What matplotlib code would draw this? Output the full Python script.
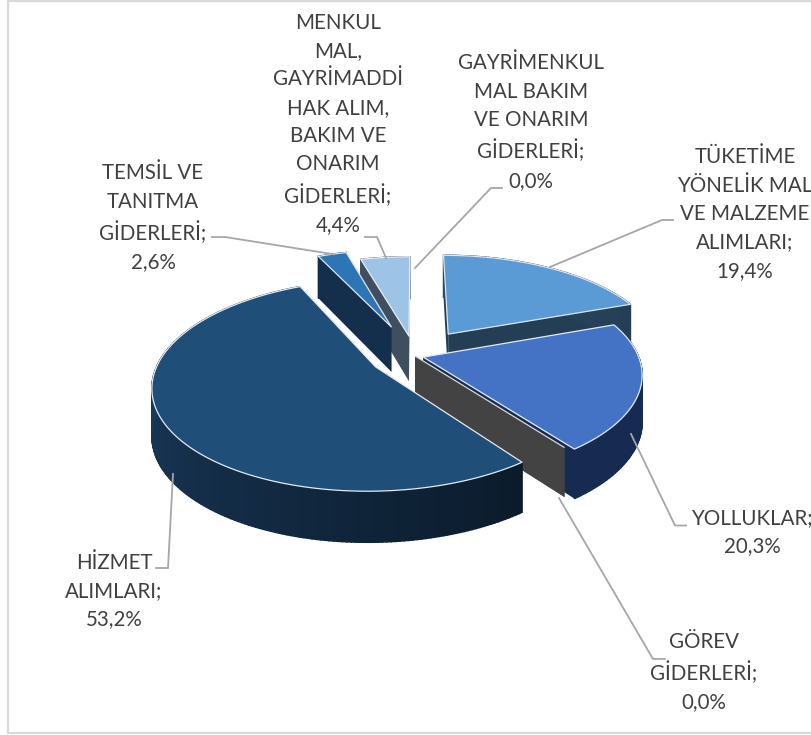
import numpy as np
import matplotlib
matplotlib.use('Agg')
import matplotlib.pyplot as plt
from matplotlib.colors import to_rgb
from matplotlib.patches import Polygon

plt.rcParams['font.family'] = ['Lato', 'DejaVu Sans']

# chart data
labels = ['TÜKETİME\nYÖNELİK MAL\nVE MALZEME\nALIMLARI;', 'YOLLUKLAR;', 'GÖREV\nGİDERLERİ;',
          'HİZMET\nALIMLARI;', 'TEMSİL VE\nTANITMA\nGİDERLERİ;',
          'MENKUL\nMAL,\nGAYRİMADDİ\nHAK ALIM,\nBAKIM VE\nONARIM\nGİDERLERİ;',
          'GAYRİMENKUL\nMAL BAKIM\nVE ONARIM\nGİDERLERİ;']
values = [19.4, 20.3, 0.0, 53.2, 2.6, 4.4, 0.0]

# styles
explode = [0.28, 0.04, 0.0, 0.21, 0.33, 0.21, 0.21]
top_colors = ['#5B9BD5', '#4472C4', '#A5A5A5', '#1F4E79', '#2E75B6', '#9DC3E6', '#9DC3E6']
side_colors = ['#243F55', '#172B52', '#434343', '#0C1C2C', '#142F4B', '#3F4F60', '#3F4F60']
outer_colors = [['#2A4A68', '#243F55'], ['#172B52', '#172B52'], ['#434343', '#434343'],
                ['#0B1B2B', '#16324F', '#1D4A72'], ['#142F4B', '#142F4B'],
                ['#3F4F60', '#3F4F60'], ['#3F4F60', '#3F4F60']]
edge_colors = ['#DCE6F0', '#E4EAF5', '#D8D8D8', '#E4EAF0', '#DCE6F0', '#E8EEF5', 'none']
draw_order = [0, 6, 5, 4, 1, 2, 3]

# label layout in pixels: centre x, centre y of the text block
label_pos = [(745, 214), (752, 532), (704, 672), (114, 591), (153, 218), (338, 124), (531, 122)]
leaders = [[(673, 220), (662, 220), (550, 267)],
           [(686, 525.5), (675, 525.5), (631, 434)],
           [(665, 659), (653, 659), (559, 498)],
           [(156, 568), (168, 568), (173, 474)],
           [(212, 237), (225, 237), (332, 254)],
           [(365, 237), (377, 237), (386, 258)],
           [(502, 188), (491, 188), (415, 268)]]

cx, cy = 415, 356
rx, ry = 215, 99
persp = 0.17
depth = 46


def project(u, v, drop=False):
    u, v = np.asarray(u, float), np.asarray(v, float)
    s = 1 / (1 + persp * v)
    x = cx + rx * u * s
    y = cy - ry * v * s
    if drop:
        y = y + depth * np.sqrt(s)
    return np.column_stack([np.atleast_1d(x), np.atleast_1d(y)])


fig = plt.figure(figsize=(8.12, 7.35), dpi=100)
ax = fig.add_axes([0, 0, 1, 1])
ax.set_xlim(0, 812)
ax.set_ylim(735, 0)
ax.axis('off')

# frame
ax.plot([813, 8.5, 8.5, 813], [1, 1, 733, 733], color='#D9D9D9', lw=1.6, solid_joinstyle='miter')

edges = np.cumsum([0] + values) / sum(values) * 2 * np.pi

for i in draw_order:
    layer = 2 + draw_order.index(i)
    a0, a1 = edges[i], edges[i + 1]
    mid = (a0 + a1) / 2
    ox, oy = explode[i] * np.sin(mid), explode[i] * np.cos(mid)
    n = max(int((a1 - a0) * 60), 2)
    th = np.linspace(a0, a1, n)
    rim_u, rim_v = ox + np.sin(th), oy + np.cos(th)
    apex_top = project(ox, oy)
    apex_bot = project(ox, oy, True)
    rim_top = project(rim_u, rim_v)
    rim_bot = project(rim_u, rim_v, True)

    # flat walls along the two radii
    for k in (0, -1):
        quad = [apex_top[0], rim_top[k], rim_bot[k], apex_bot[0]]
        ax.add_patch(Polygon(quad, closed=True, fc=side_colors[i], ec='none', lw=0, zorder=layer))

    # outer wall, in short pieces so the shade can run along it
    stops = np.array([to_rgb(c) for c in outer_colors[i]])
    pos = np.linspace(0, 1, len(stops))
    for k in range(n - 1):
        if a1 == a0:
            continue
        f = k / max(n - 2, 1)
        col = [np.interp(f, pos, stops[:, c]) for c in range(3)]
        quad = [rim_top[k], rim_top[k + 1], rim_bot[k + 1], rim_bot[k]]
        ax.add_patch(Polygon(quad, closed=True, fc=col, ec=col, lw=1.1, zorder=layer))

    # top face
    face = np.vstack([apex_top, rim_top])
    ax.add_patch(Polygon(face, closed=True, fc=top_colors[i], ec=edge_colors[i], lw=0.9,
                         joinstyle='round', zorder=layer))

for pts in leaders:
    xs, ys = zip(*pts)
    ax.plot(xs, ys, color='#A6A6A6', lw=1.3, zorder=20, solid_joinstyle='miter')

for name, val, (tx, ty) in zip(labels, values, label_pos):
    text = name + '\n' + f'{val:.1f}'.replace('.', ',') + '%'
    ax.text(tx, ty, text, ha='center', va='center', fontsize=14.8, color='#404040',
            linespacing=1.52, zorder=21)

fig.savefig('out.png', dpi=100)
